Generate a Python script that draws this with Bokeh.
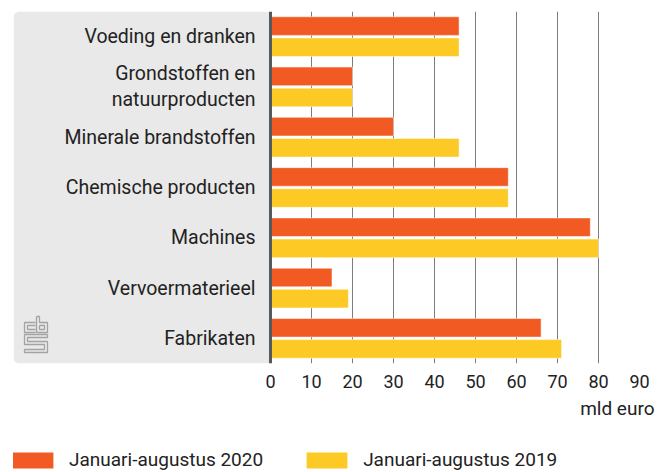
from bokeh.plotting import figure
from bokeh.layouts import column
from bokeh.models import (FactorRange, FixedTicker, Span, BoxAnnotation, Title,
                          Legend, LegendItem, ColumnDataSource, Range1d)
from bokeh.transform import dodge
from bokeh.core.properties import value
from bokeh.embed import file_html
from bokeh.resources import INLINE

# ---- data ----
categories = ["Voeding en dranken", "Grondstoffen en natuurproducten", "Minerale brandstoffen",
              "Chemische producten", "Machines", "Vervoermaterieel", "Fabrikaten"]
category_labels = ["Voeding en dranken", "Grondstoffen en\nnatuurproducten", "Minerale brandstoffen",
                   "Chemische producten", "Machines", "Vervoermaterieel", "Fabrikaten"]
values_2020 = [46, 20, 30, 58, 78, 15, 66]
values_2019 = [46, 20, 46, 58, 80, 19, 71]
x_ticks = [0, 10, 20, 30, 40, 50, 60, 70, 80, 90]
series_labels = ["Januari-augustus 2020", "Januari-augustus 2019"]
unit_label = "mld euro"

FONT = "Roboto"
ORANGE = "#f15a22"
YELLOW = "#fdca25"
TEXT = "#222222"

src = ColumnDataSource(dict(cat=categories, lab=category_labels, v20=values_2020, v19=values_2019))

X0 = -62.68
p = figure(width=658, height=440, output_backend="svg", toolbar_location=None,
           x_range=(X0, 90), y_range=FactorRange(factors=categories[::-1], range_padding=0),
           y_axis_location=None,
           min_border_left=13, min_border_right=19, min_border_top=11, min_border_bottom=77)
p.outline_line_color = None
p.background_fill_color = "white"
p.border_fill_color = "white"

# grey label panel
panel = BoxAnnotation(right=0, fill_color="#e9e9e9", fill_alpha=1, line_color=None,
                      level="underlay", border_radius=dict(top_left=6, top_right=0,
                                                           bottom_right=0, bottom_left=6))
p.add_layout(panel)

# grid
p.ygrid.visible = False
p.xgrid.ticker = FixedTicker(ticks=x_ticks[1:])
p.xgrid.grid_line_color = "#7d7d7d"
p.xgrid.grid_line_width = 1

# axis
ax = p.xaxis[0]
ax.ticker = FixedTicker(ticks=x_ticks)
ax.axis_line_color = None
ax.major_tick_line_color = None
ax.minor_tick_line_color = None
ax.major_label_text_font = FONT
ax.major_label_text_font_size = "18px"
ax.major_label_text_color = TEXT
ax.major_label_standoff = 5

r1 = p.hbar(y=dodge("cat", 0.21, range=p.y_range), right="v20", left=0, height=0.37,
            source=src, fill_color=ORANGE, line_color="white", line_width=1, line_alpha=0.5)
r2 = p.hbar(y=dodge("cat", -0.21, range=p.y_range), right="v19", left=0, height=0.37,
            source=src, fill_color=YELLOW, line_color="white", line_width=1, line_alpha=0.5)

# baseline
p.add_layout(Span(location=0, dimension="height", line_color="#55595e", line_width=3))

# category labels
p.text(x=0, y="cat", text="lab", source=src, x_offset=-15, text_align="right",
       text_baseline="middle", text_font=value(FONT), text_font_size="19.5px",
       text_color=TEXT, text_line_height=1.13)

# logo (decoration, drawn in pixel units converted to the plot's coordinates)
logo_px = [[35, 24, 24, 35], [35, 27, 27, 35],
           [36, 36, 47, 47, 39, 39, 36], [39, 39, 44, 44, 39],
           [47, 24, 24, 44, 44, 24, 24, 47, 47, 27, 27, 47, 47]]
logo_py = [[322, 322, 332, 332], [325, 325, 329, 329],
           [316, 332, 332, 322, 322, 316, 316], [325, 329, 329, 325, 325],
           [334, 334, 344, 344, 349, 349, 352, 352, 341, 341, 337, 337, 334]]
fx = lambda px: X0 + (px - 13) * (90 - X0) / (639 - 13)
fy = lambda py: (363 - py) * len(categories) / (363 - 11)
p.multi_line(xs=[[fx(v) for v in xs] for xs in logo_px],
             ys=[[fy(v) for v in ys] for ys in logo_py],
             line_color="#a3a3a3", line_width=1.3)

# unit label
p.add_layout(Title(text=unit_label, align="right", text_font=FONT, text_font_size="19px",
                   text_font_style="normal", text_color=TEXT, standoff=8, offset=-15), "below")

# legend strip (swatch renderers sit far outside the visible range; only legend glyphs show)
q = figure(width=658, height=32, output_backend="svg", toolbar_location=None,
           x_range=Range1d(0, 1), y_range=Range1d(0, 1),
           x_axis_location=None, y_axis_location=None,
           min_border_left=0, min_border_right=0, min_border_top=0, min_border_bottom=0)
q.outline_line_color = None
q.grid.visible = False
l1 = q.hbar(y=[-5], right=[-5], left=[-6], height=1, fill_color=ORANGE, line_color=None)
l2 = q.hbar(y=[-5], right=[-5], left=[-6], height=1, fill_color=YELLOW, line_color=None)
legend = Legend(items=[LegendItem(label=series_labels[0], renderers=[l1]),
                       LegendItem(label=series_labels[1], renderers=[l2])],
                orientation="horizontal", location=(-6, 1),
                glyph_width=51, glyph_height=20, label_height=20, label_standoff=11,
                spacing=38, padding=0, margin=0, border_line_color=None,
                background_fill_alpha=0, label_text_font=FONT, label_text_font_size="19px",
                label_text_color=TEXT)
q.add_layout(legend)

open("out.html", "w").write(file_html(column(p, q, spacing=0), INLINE))
